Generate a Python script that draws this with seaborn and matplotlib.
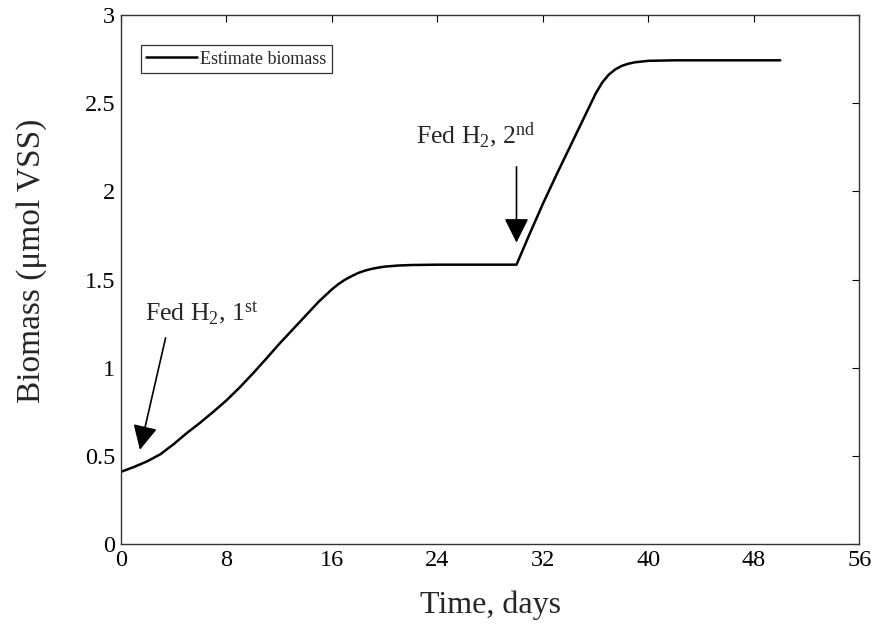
import matplotlib
matplotlib.use("Agg")
import matplotlib.pyplot as plt
import seaborn as sns
import pandas as pd

# Estimated biomass over the batch run
days = [0, 1, 2, 3, 4, 5, 6, 7, 8, 9, 10, 11, 12, 13, 14, 15, 16, 16.5, 17,
        17.5, 18, 18.5, 19, 19.5, 20, 21, 22, 24, 26, 28, 30, 31, 32, 33, 34,
        35, 36, 36.5, 37, 37.5, 38, 38.5, 39, 40, 42, 44, 46, 48, 50]
biomass = [0.410, 0.438, 0.470, 0.510, 0.567, 0.630, 0.688, 0.750, 0.815,
           0.888, 0.967, 1.050, 1.135, 1.215, 1.295, 1.375, 1.445, 1.475,
           1.500, 1.520, 1.538, 1.551, 1.561, 1.568, 1.574, 1.580, 1.583,
           1.585, 1.585, 1.585, 1.585, 1.760, 1.930, 2.090, 2.245, 2.400,
           2.555, 2.618, 2.663, 2.693, 2.713, 2.725, 2.733, 2.741, 2.744,
           2.744, 2.744, 2.744, 2.744]

x_ticks = [0, 8, 16, 24, 32, 40, 48, 56]
y_ticks = [0, 0.5, 1, 1.5, 2, 2.5, 3]
y_tick_labels = ["0", "0.5", "1", "1.5", "2", "2.5", "3"]

df = pd.DataFrame({"Time": days, "Biomass": biomass})

sns.set_style("white")
plt.rcParams["font.family"] = ["Liberation Serif", "DejaVu Serif"]
plt.rcParams["mathtext.fontset"] = "custom"
plt.rcParams["mathtext.rm"] = "Liberation Serif"
plt.rcParams["mathtext.it"] = "Liberation Serif:italic"

fig = plt.figure(figsize=(8.76, 6.32), dpi=100)
ax = fig.add_axes([0.138, 0.139, 0.843, 0.837])

sns.lineplot(data=df, x="Time", y="Biomass", ax=ax, color="black",
             linewidth=1.8, sort=False, estimator=None,
             label="Estimate biomass")

ax.set_xlim(0, 56)
ax.set_ylim(0, 3)
ax.set_xticks(x_ticks)
ax.set_yticks(y_ticks)
ax.set_yticklabels(y_tick_labels)
ax.tick_params(direction="in", length=5, width=0.8, top=True, right=True,
               labelsize=17.5, colors="black", pad=4)
for s in ax.spines.values():
    s.set_color("#333333")
    s.set_linewidth(1.0)

ax.set_xlabel("Time, days", fontsize=23, labelpad=14)
ax.set_ylabel("Biomass (μmol VSS)", fontsize=24)
ax.yaxis.set_label_coords(-0.1, 0.535)

leg = ax.legend(loc="upper left", bbox_to_anchor=(0.027, 0.943),
                fontsize=13, frameon=True, fancybox=False, handlelength=2.8,
                handletextpad=0.2, borderpad=0.3, borderaxespad=0)
leg.get_frame().set_edgecolor("black")
leg.get_frame().set_linewidth(0.9)

arrow_style = dict(arrowstyle="-|>,head_width=0.5,head_length=1.0",
                   mutation_scale=15, color="black", lw=1.2,
                   shrinkA=0, shrinkB=0)
ax.annotate("", xy=(1.44, 0.535), xytext=(3.39, 1.17),
            arrowprops=arrow_style)
ax.text(1.8, 1.31, r"Fed H$_2$, 1$^{\mathrm{st}}$", fontsize=18.5,
        ha="left", va="center")
ax.annotate("", xy=(30.0, 1.71), xytext=(30.0, 2.14),
            arrowprops=arrow_style)
ax.text(26.9, 2.32, r"Fed H$_2$, 2$^{\mathrm{nd}}$", fontsize=18.5,
        ha="center", va="center")

fig.savefig("out.png", dpi=100, facecolor="white")
